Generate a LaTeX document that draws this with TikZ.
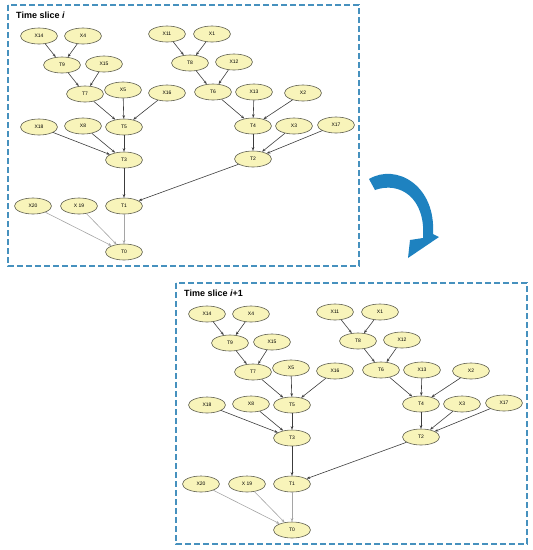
\documentclass[tikz,border=0pt]{standalone}
\usepackage{fontspec}
\setmainfont{Liberation Sans}
\usetikzlibrary{shapes.geometric,arrows.meta}
\definecolor{nodefill}{RGB}{248,244,186}
\definecolor{nodeline}{RGB}{95,95,80}
\definecolor{boxblue}{RGB}{70,145,190}
\definecolor{edgedark}{RGB}{60,60,60}
\definecolor{edgelight}{RGB}{165,165,165}
\definecolor{arrowblue}{RGB}{30,130,192}
\tikzset{
 var/.style={ellipse, draw=nodeline, fill=nodefill, line width=0.6pt, minimum width=37pt, minimum height=16pt, inner sep=0pt, font=\fontsize{5}{6}\selectfont},
 dep/.style={draw=edgedark, line width=0.6pt, -{Stealth[length=3.5pt,width=2.6pt]}},
 deplight/.style={dep, draw=edgelight},
 slicebox/.style={draw=boxblue, line width=1.2pt, dash pattern=on 6pt off 3pt},
 slicetitle/.style={anchor=west, font=\fontsize{9}{11}\selectfont\bfseries, inner sep=0pt}
}
\newcommand\netslice[2]{%
 \draw[slicebox] (8,5) rectangle (359,266);
 \node[slicetitle] (#1title) at (16,15) {#2};
 \node[var] (#1X14) at (39,36) {X14};
 \node[var] (#1X4) at (83,36) {X4};
 \node[var] (#1X11) at (167,34) {X11};
 \node[var] (#1X1) at (212,34) {X1};
 \node[var] (#1T9) at (62,65) {T9};
 \node[var] (#1X15) at (104,64) {X15};
 \node[var] (#1T8) at (190,63) {T8};
 \node[var] (#1X12) at (234,62) {X12};
 \node[var] (#1T7) at (85,94) {T7};
 \node[var] (#1X5) at (123,90) {X5};
 \node[var] (#1X16) at (167,93) {X16};
 \node[var] (#1T6) at (213,92) {T6};
 \node[var] (#1X13) at (254,92) {X13};
 \node[var] (#1X2) at (303,93) {X2};
 \node[var] (#1X18) at (39,127) {X18};
 \node[var] (#1X8) at (83,126) {X8};
 \node[var] (#1T5) at (124,127) {T5};
 \node[var] (#1T4) at (253,126) {T4};
 \node[var] (#1X3) at (294,126) {X3};
 \node[var] (#1X17) at (336,125) {X17};
 \node[var] (#1T3) at (124,160) {T3};
 \node[var] (#1T2) at (253,159) {T2};
 \node[var] (#1X20) at (33,206) {X20};
 \node[var] (#1X19) at (79,206) {X 19};
 \node[var] (#1T1) at (124,206) {T1};
 \node[var] (#1T0) at (124,252) {T0};
 \draw[dep] (#1X14) -- (#1T9);
 \draw[dep] (#1X4) -- (#1T9);
 \draw[dep] (#1T9) -- (#1T7);
 \draw[dep] (#1X15) -- (#1T7);
 \draw[dep] (#1X11) -- (#1T8);
 \draw[dep] (#1X1) -- (#1T8);
 \draw[dep] (#1T8) -- (#1T6);
 \draw[dep] (#1X12) -- (#1T6);
 \draw[dep] (#1T7) -- (#1T5);
 \draw[dep] (#1X5) -- (#1T5);
 \draw[dep] (#1X16) -- (#1T5);
 \draw[dep] (#1T6) -- (#1T4);
 \draw[dep] (#1X13) -- (#1T4);
 \draw[dep] (#1X2) -- (#1T4);
 \draw[dep] (#1X18) -- (#1T3);
 \draw[dep] (#1X8) -- (#1T3);
 \draw[dep] (#1T5) -- (#1T3);
 \draw[dep] (#1T4) -- (#1T2);
 \draw[dep] (#1X3) -- (#1T2);
 \draw[dep] (#1X17) -- (#1T2);
 \draw[dep] (#1T3) -- (#1T1);
 \draw[dep] (#1T2) -- (#1T1);
 \draw[deplight] (#1X20) -- (#1T0);
 \draw[deplight] (#1X19) -- (#1T0);
 \draw[deplight] (#1T1) -- (#1T0);
}
\begin{document}
\begin{tikzpicture}[x=1pt,y=-1pt]
\useasboundingbox (0,0) rectangle (533,550);
\netslice{a}{Time slice \textit{i}}
\begin{scope}[shift={(168,278)}]
\netslice{b}{Time slice \textit{i}+1}
\end{scope}
\fill[arrowblue] (369,179) .. controls (396,163) and (436,185) .. (433,234)
  -- (439,237) -- (408,258) -- (410,240) -- (423,238)
  .. controls (426,198) and (400,181) .. (375,190) -- cycle;
\end{tikzpicture}
\end{document}
